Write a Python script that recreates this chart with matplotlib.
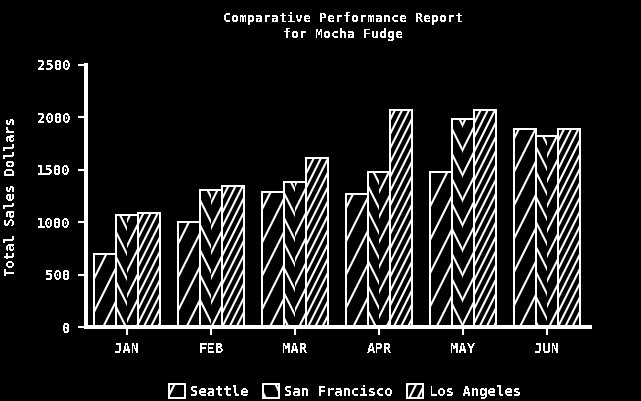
import warnings
import numpy as np
import matplotlib
matplotlib.use("Agg")
import matplotlib.pyplot as plt
from matplotlib import hatch as mhatch
from matplotlib.patches import Patch
from matplotlib.path import Path

warnings.filterwarnings("ignore")

# data
months = ["JAN", "FEB", "MAR", "APR", "MAY", "JUN"]
seattle = [700, 1005, 1290, 1270, 1480, 1885]
san_francisco = [1065, 1310, 1385, 1480, 1980, 1820]
los_angeles = [1085, 1350, 1615, 2075, 2075, 1885]
series_names = ["Seattle", "San Francisco", "Los Angeles"]
y_ticks = [0, 500, 1000, 1500, 2000, 2500]


# steep hatch lines (slope 2), 'p' = rising, 'q' = falling, 2 lines per char
class SteepHatch(mhatch.HatchPatternBase):
    def __init__(self, hatch, density):
        self.segs = []
        for n, up in ((hatch.count('p') * 2, True), (hatch.count('q') * 2, False)):
            if n == 0:
                continue
            for k in range(-n, n + 1):
                x0 = k / n
                if up:
                    self.segs.append(((x0, 0.0), (x0 + 0.5, 1.0)))
                else:
                    self.segs.append(((x0, 1.0), (x0 + 0.5, 0.0)))
        self.num_vertices = 2 * len(self.segs)

    def set_vertices_and_codes(self, vertices, codes):
        segs = np.array(self.segs)
        vertices[0::2] = segs[:, 0]
        vertices[1::2] = segs[:, 1]
        codes[0::2] = Path.MOVETO
        codes[1::2] = Path.LINETO


mhatch._hatch_types.append(SteepHatch)

plt.rcParams['font.family'] = ['DejaVu Sans Mono']
plt.rcParams['font.weight'] = 'bold'
plt.rcParams['font.size'] = 10
plt.rcParams['hatch.color'] = 'white'
plt.rcParams['hatch.linewidth'] = 1.5
plt.rcParams['text.antialiased'] = False
plt.rcParams['patch.antialiased'] = False
plt.rcParams['lines.antialiased'] = False

fig = plt.figure(figsize=(6.41, 4.01), dpi=100, facecolor='black')
ax = fig.add_axes([0.134, 0.1845, 0.786, 0.6535], facecolor='black')

x = np.arange(len(months))
w = 0.26
lw = 1.2
h_sea, h_la = 'ppp', 'ppppppp'

ax.bar(x - w, seattle, w, facecolor='black', edgecolor='white', hatch=h_sea, linewidth=lw)
ax.bar(x + w, los_angeles, w, facecolor='black', edgecolor='white', hatch=h_la, linewidth=lw)
# herringbone look for San Francisco: left half falling, right half rising
ax.bar(x - w / 4, san_francisco, w / 2, facecolor='black', edgecolor='white', hatch='qqqq', linewidth=0)
ax.bar(x + w / 4, san_francisco, w / 2, facecolor='black', edgecolor='white', hatch='pppp', linewidth=0)
ax.bar(x, san_francisco, w, fill=False, edgecolor='white', linewidth=lw)

ax.set_xlim(-0.49, 5.51)
ax.set_ylim(0, 2500)
ax.set_xticks(x)
ax.set_xticklabels(months)
ax.set_yticks(y_ticks)

for s in ['top', 'right']:
    ax.spines[s].set_visible(False)
for s in ['left', 'bottom']:
    ax.spines[s].set_color('white')
    ax.spines[s].set_linewidth(1.5)
ax.tick_params(colors='white', width=1.5, length=6, labelsize=10, pad=5)

ax.set_ylabel("Total Sales Dollars", color='white', fontsize=10, fontweight='bold', labelpad=14)
fig.text(0.535, 0.934, "Comparative Performance Report\nfor Mocha Fudge",
         color='white', ha='center', va='center', fontsize=9.5, linespacing=1.25)

handles = [Patch(facecolor='black', edgecolor='white', hatch=h_sea, linewidth=lw),
           Patch(facecolor='black', edgecolor='white', hatch='qqq', linewidth=lw),
           Patch(facecolor='black', edgecolor='white', hatch='pppppp', linewidth=lw)]
fig.legend(handles, series_names, loc='lower center', bbox_to_anchor=(0.538, -0.025),
           ncol=3, frameon=False, labelcolor='white', fontsize=10,
           handlelength=1.15, handleheight=1.15, handletextpad=0.4, columnspacing=1.0)

fig.savefig("out.png", dpi=100, facecolor='black')
